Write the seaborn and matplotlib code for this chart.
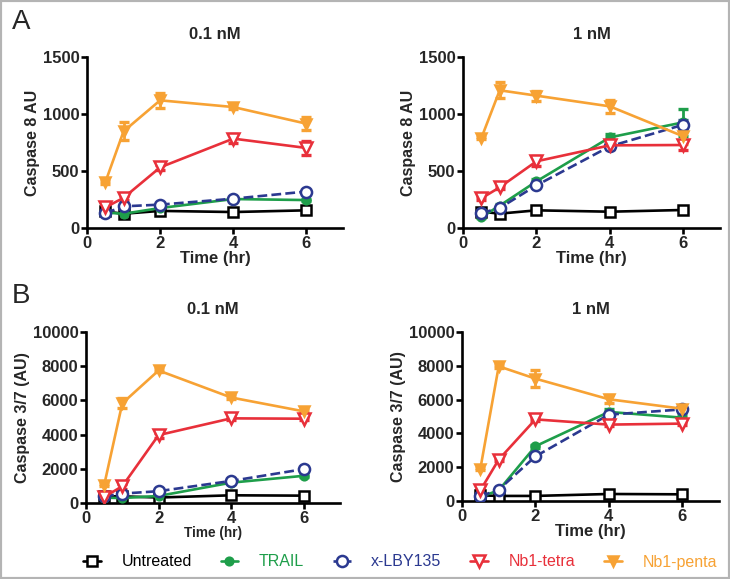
import matplotlib
matplotlib.use("Agg")
import matplotlib.pyplot as plt
import seaborn as sns
import pandas as pd
from matplotlib.lines import Line2D
from matplotlib.patches import Rectangle

sns.set_theme(style="white")
plt.rcParams['font.family'] = ['Liberation Sans', 'DejaVu Sans']

times = [0.5, 1, 2, 4, 6]
series = ["Untreated", "TRAIL", "x-LBY135", "Nb1-tetra", "Nb1-penta"]

# Panel A, 0.1 nM (Caspase 8 AU)
a01_untreated = [145, 125, 150, 140, 155]
a01_trail = [135, 125, 175, 254, 245]
a01_lby = [130, 190, 205, 257, 320]
a01_tetra = [180, 265, 532, 784, 702]
a01_penta = [400, 848, 1120, 1061, 915]
a01_err_untreated = [10, 10, 10, 10, 10]
a01_err_trail = [10, 10, 10, 10, 10]
a01_err_lby = [10, 10, 10, 10, 10]
a01_err_tetra = [15, 15, 20, 40, 60]
a01_err_penta = [10, 80, 65, 15, 55]

# Panel A, 1 nM
a1_untreated = [143, 126, 155, 143, 158]
a1_trail = [96, 196, 409, 795, 927]
a1_lby = [131, 175, 374, 716, 906]
a1_tetra = [260, 357, 585, 725, 728]
a1_penta = [789, 1208, 1161, 1067, 804]
a1_err_untreated = [10, 10, 10, 10, 10]
a1_err_trail = [10, 15, 20, 30, 120]
a1_err_lby = [10, 10, 15, 20, 40]
a1_err_tetra = [15, 15, 45, 35, 40]
a1_err_penta = [10, 70, 45, 55, 70]

# Panel B, 0.1 nM (Caspase 3/7 AU)
b01_untreated = [390, 390, 320, 450, 430]
b01_trail = [310, 290, 410, 1190, 1590]
b01_lby = [390, 550, 690, 1290, 1980]
b01_tetra = [350, 980, 3970, 4950, 4930]
b01_penta = [1040, 5830, 7750, 6170, 5360]
b01_err_untreated = [60, 60, 60, 60, 60]
b01_err_trail = [60, 60, 60, 80, 80]
b01_err_lby = [60, 60, 80, 100, 100]
b01_err_tetra = [60, 150, 150, 100, 100]
b01_err_penta = [60, 300, 100, 100, 100]

# Panel B, 1 nM
b1_untreated = [335, 300, 300, 415, 395]
b1_trail = [240, 630, 3240, 5270, 4930]
b1_lby = [280, 670, 2640, 5110, 5420]
b1_tetra = [630, 2450, 4830, 4520, 4580]
b1_penta = [1910, 7970, 7240, 6020, 5460]
b1_err_untreated = [60, 60, 60, 60, 60]
b1_err_trail = [40, 60, 100, 150, 150]
b1_err_lby = [40, 60, 80, 100, 150]
b1_err_tetra = [100, 100, 100, 100, 100]
b1_err_penta = [60, 80, 500, 250, 120]

colors = {"Untreated": "#000000", "TRAIL": "#1e9e4a", "x-LBY135": "#2b3990",
          "Nb1-tetra": "#e8303a", "Nb1-penta": "#f7a234"}
styles = {
    "Untreated": dict(marker="s", mfc="white", ms=7, ls="-"),
    "TRAIL": dict(marker="o", mfc=colors["TRAIL"], ms=5.5, ls="-"),
    "x-LBY135": dict(marker="o", mfc="white", ms=8, ls="--"),
    "Nb1-tetra": dict(marker="v", mfc="white", ms=8, ls="-"),
    "Nb1-penta": dict(marker="v", mfc=colors["Nb1-penta"], ms=7.5, ls="-"),
}

panels = [
    dict(pos=[87/730, 1-228/579, 256/730, 171/579], ymax=1500, yt=[0, 500, 1000, 1500],
         ylabel="Caspase 8 AU", title="0.1 nM", xl_fs=12,
         vals=[a01_untreated, a01_trail, a01_lby, a01_tetra, a01_penta],
         errs=[a01_err_untreated, a01_err_trail, a01_err_lby, a01_err_tetra, a01_err_penta]),
    dict(pos=[463/730, 1-228/579, 257/730, 171/579], ymax=1500, yt=[0, 500, 1000, 1500],
         ylabel="Caspase 8 AU", title="1 nM", xl_fs=12,
         vals=[a1_untreated, a1_trail, a1_lby, a1_tetra, a1_penta],
         errs=[a1_err_untreated, a1_err_trail, a1_err_lby, a1_err_tetra, a1_err_penta]),
    dict(pos=[86/730, 1-503/579, 254/730, 171/579], ymax=10000, yt=[0, 2000, 4000, 6000, 8000, 10000],
         ylabel="Caspase 3/7 (AU)", title="0.1 nM", xl_fs=9.8,
         vals=[b01_untreated, b01_trail, b01_lby, b01_tetra, b01_penta],
         errs=[b01_err_untreated, b01_err_trail, b01_err_lby, b01_err_tetra, b01_err_penta]),
    dict(pos=[462/730, 1-501/579, 257/730, 169/579], ymax=10000, yt=[0, 2000, 4000, 6000, 8000, 10000],
         ylabel="Caspase 3/7 (AU)", title="1 nM", xl_fs=12,
         vals=[b1_untreated, b1_trail, b1_lby, b1_tetra, b1_penta],
         errs=[b1_err_untreated, b1_err_trail, b1_err_lby, b1_err_tetra, b1_err_penta]),
]

fig = plt.figure(figsize=(7.3, 5.79), dpi=100)

for p in panels:
    ax = fig.add_axes(p["pos"])
    for i in [4, 3, 1, 2, 0]:
        name = series[i]
        c = colors[name]
        st = styles[name]
        df = pd.DataFrame({"t": times, "v": p["vals"][i]})
        ax.errorbar(times, p["vals"][i], yerr=p["errs"][i], fmt="none", ecolor=c,
                    elinewidth=2, capsize=3.5, capthick=2.4, zorder=2 + i * 0.1)
        sns.lineplot(data=df, x="t", y="v", ax=ax, color=c, marker=st["marker"],
                     markersize=st["ms"], markerfacecolor=st["mfc"], markeredgecolor=c,
                     markeredgewidth=1.8, linestyle=st["ls"], linewidth=1.9,
                     zorder=3 + i * 0.1, legend=False)
    ax.set_xlim(0, 7)
    ax.set_ylim(0, p["ymax"])
    ax.set_xticks([0, 2, 4, 6])
    ax.set_yticks(p["yt"])
    for s in ["top", "right"]:
        ax.spines[s].set_visible(False)
    for s in ["left", "bottom"]:
        ax.spines[s].set_linewidth(1.9)
        ax.spines[s].set_color("black")
    ax.tick_params(axis="both", direction="out", length=4.5, width=1.9, color="black",
                   labelsize=12, pad=1, left=True, bottom=True)
    for lab in ax.get_xticklabels() + ax.get_yticklabels():
        lab.set_fontweight("bold")
    ax.set_xlabel("Time (hr)", fontsize=p["xl_fs"], fontweight="bold", labelpad=0)
    ax.set_ylabel(p["ylabel"], fontsize=11.5, fontweight="bold", labelpad=2)
    ax.set_title(p["title"], fontsize=12, fontweight="bold", pad=13)
    ax.set_facecolor("white")
    ax.grid(False)

fig.text(12/730, 1-29/579, "A", fontsize=20, ha="left", va="baseline")
fig.text(12/730, 1-303/579, "B", fontsize=20, ha="left", va="baseline")

handles = []
for name in series:
    st = styles[name]
    handles.append(Line2D([0], [0], color=colors[name], marker=st["marker"],
                          markersize=st["ms"], markerfacecolor=st["mfc"],
                          markeredgecolor=colors[name], markeredgewidth=1.8,
                          linestyle=st["ls"], linewidth=1.9))
leg = fig.legend(handles, series, loc="center", bbox_to_anchor=(400/730, 1-562/579),
                 ncol=5, frameon=False, fontsize=11.5, handlelength=1.1,
                 handletextpad=1.3, columnspacing=1.8)
for txt, name in zip(leg.get_texts(), series):
    txt.set_color(colors[name])

fig.patches.append(Rectangle((0, 0), 1, 1, transform=fig.transFigure, fill=False,
                             edgecolor="#b4b4b4", linewidth=3, zorder=10))

fig.savefig("out.png", dpi=100, facecolor="white")
